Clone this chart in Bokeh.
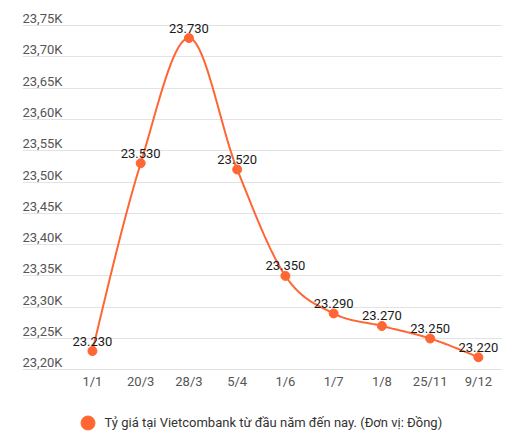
import numpy as np
from bokeh.plotting import figure
from bokeh.layouts import column
from bokeh.models import FixedTicker, ColumnDataSource, Legend, LegendItem, Range1d
from bokeh.core.properties import value
from bokeh.embed import file_html
from bokeh.resources import INLINE

# ---- data ----
categories = ["1/1", "20/3", "28/3", "5/4", "1/6", "1/7", "1/8", "25/11", "9/12"]
rates = [23230, 23530, 23730, 23520, 23350, 23290, 23270, 23250, 23220]
y_ticks = [23200, 23250, 23300, 23350, 23400, 23450, 23500, 23550, 23600, 23650, 23700, 23750]
series_name = "Tỷ giá tại Vietcombank từ đầu năm đến nay. (Đơn vị: Đồng)"

ORANGE = "#FF6633"
FONT = "Roboto"

xs = np.arange(len(categories), dtype=float)
ys = np.array(rates, dtype=float)


def monotone_curve(x, y, n=40):
    # d3 curveMonotoneX style tangents
    m = len(x)
    h = np.diff(x)
    s = np.diff(y) / h
    t = np.zeros(m)
    for i in range(1, m - 1):
        s0, s1 = s[i - 1], s[i]
        p_ = (s0 * h[i] + s1 * h[i - 1]) / (h[i - 1] + h[i])
        t[i] = (np.sign(s0) + np.sign(s1)) * min(abs(s0), abs(s1), 0.5 * abs(p_))
    t[0] = (3 * s[0] - t[1]) / 2
    t[-1] = (3 * s[-1] - t[-2]) / 2
    cx, cy = [], []
    for i in range(m - 1):
        u = np.linspace(0, 1, n, endpoint=(i == m - 2))
        h00 = 2 * u**3 - 3 * u**2 + 1
        h10 = u**3 - 2 * u**2 + u
        h01 = -2 * u**3 + 3 * u**2
        h11 = u**3 - u**2
        cx.extend(x[i] + u * h[i])
        cy.extend(h00 * y[i] + h10 * h[i] * t[i] + h01 * y[i + 1] + h11 * h[i] * t[i + 1])
    return cx, cy


cx, cy = monotone_curve(xs, ys)

p = figure(width=523, height=400, output_backend="svg", toolbar_location=None,
           x_range=Range1d(-1.45, 8.5), y_range=Range1d(23195.7, 23774),
           min_border_left=22, min_border_right=21, min_border_top=10, min_border_bottom=28)
p.outline_line_color = None
p.background_fill_color = "white"
p.border_fill_color = "white"

p.yaxis.visible = False
p.xgrid.visible = False
p.ygrid.ticker = FixedTicker(ticks=y_ticks)
p.ygrid.grid_line_color = "#e3e3e3"
p.ygrid.grid_line_width = 1

xa = p.xaxis[0]
xa.ticker = FixedTicker(ticks=list(range(len(categories))))
xa.major_label_overrides = {i: c for i, c in enumerate(categories)}
xa.axis_line_color = None
xa.major_tick_line_color = None
xa.minor_tick_line_color = None
xa.major_tick_out = 0
xa.major_tick_in = 0
xa.major_label_standoff = 1
xa.major_label_text_font = FONT
xa.major_label_text_font_size = "13px"
xa.major_label_text_color = "#555555"

# y tick labels sitting above gridlines
tick_src = ColumnDataSource(dict(
    x=[-1.45] * len(y_ticks), y=y_ticks,
    t=[f"{v/1000:.2f}K".replace(".", ",") for v in y_ticks]))
p.text(x="x", y="y", text="t", source=tick_src, text_font=value(FONT),
       text_font_size="13px", text_color="#555555", text_align="left",
       text_baseline="middle", y_offset=-7)

p.line(cx, cy, line_color=ORANGE, line_width=2)
p.scatter(xs, ys, size=9, fill_color=ORANGE, line_color=ORANGE)

lab_src = ColumnDataSource(dict(x=xs, y=ys, t=[f"{v:,}".replace(",", ".") for v in rates]))
p.text(x="x", y="y", text="t", source=lab_src, text_font=value(FONT),
       text_font_size="13px", text_color="#1a1a1a", text_align="center",
       text_baseline="middle", y_offset=-10)

# legend strip below the chart
p2 = figure(width=523, height=40, output_backend="svg", toolbar_location=None,
            x_range=Range1d(0, 1), y_range=Range1d(0, 1),
            min_border=0, min_border_left=0, min_border_right=0,
            min_border_top=0, min_border_bottom=0)
p2.axis.visible = False
p2.grid.visible = False
p2.outline_line_color = None
# legend swatch renderer: its single point lies outside the visible range
dummy = p2.scatter(x=[-5], y=[-5], size=14, fill_color=ORANGE, line_color=ORANGE)
legend = Legend(items=[LegendItem(label=series_name, renderers=[dummy])],
                location=(47.5, 0.5), orientation="horizontal",
                glyph_width=35, glyph_height=35, label_standoff=0,
                padding=0, margin=0, spacing=0,
                border_line_color=None, background_fill_alpha=0,
                label_text_font=FONT, label_text_font_size="13px",
                label_text_color="#333333")
p2.add_layout(legend)

open("out.html", "w").write(file_html(column(p, p2, spacing=0), INLINE))
